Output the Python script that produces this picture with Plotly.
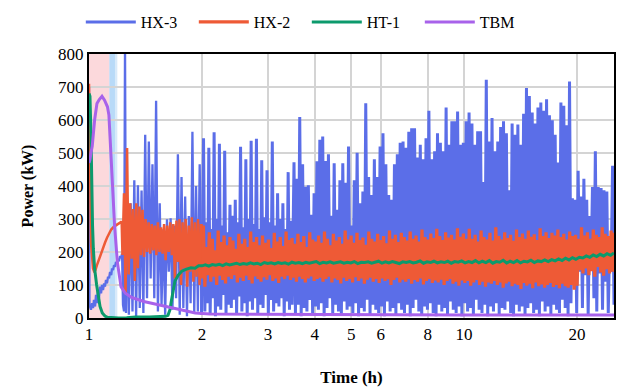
import numpy as np
import plotly.graph_objects as go

# ---------------- data ----------------
SERIES = ["HX-3", "HX-2", "HT-1", "TBM"]
COLORS = ["#5B6EE8", "#EE5A36", "#0C9A6C", "#A862EA"]

X_TICKS = [1, 2, 3, 4, 5, 6, 8, 10, 20]
X_MAX = 25.1
Y_TICKS = [0, 100, 200, 300, 400, 500, 600, 700, 800]

PINK_BAND = [1.0, 1.133]
BLUE_BAND = [1.133, 1.173]
BLUE_BAND_FADE = [1.173, 1.19]

# HX-3 : hand-read early samples (time h, kW)
HX3_EARLY_T = [1.0, 1.003, 1.012, 1.019, 1.025, 1.031, 1.038, 1.044, 1.050, 1.057,
               1.063, 1.070, 1.077, 1.083, 1.090, 1.097, 1.103, 1.110, 1.117, 1.124,
               1.131, 1.138, 1.146, 1.152, 1.159, 1.166, 1.173, 1.180, 1.188, 1.195,
               1.202, 1.210, 1.217, 1.225, 1.232, 1.240, 1.2475, 1.255]
HX3_EARLY_V = [700, 40, 25, 45, 30, 55, 35, 70, 45, 85,
               60, 95, 75, 100, 85, 105, 95, 115, 105, 125,
               120, 140, 130, 150, 145, 160, 155, 170, 165, 180,
               172, 188, 182, 195, 40, 20, 830, 15]
# HX-3 peaks / troughs, 1.26 h - 2 h
HX3_PEAKS_A = [330, 348, 417, 402, 386, 555, 535, 466, 658, 348, 269, 299, 302, 280,
               496, 427, 368, 309, 564, 400, 466]
HX3_TROUGHS_A = [10, 20, 5, 30, 15, 60, 120, 60, 20, 40, 10, 140, 25, 60, 10, 30, 5, 45,
                 15, 20, 10]
# HX-3 peaks / troughs, 2 h - 3.5 h
HX3_PEAKS_B = [545, 290, 516, 270, 563, 300, 528, 280, 507, 260, 343, 310, 358, 290,
               519, 275, 481, 300, 537, 285, 543, 270, 478, 305, 448, 290, 535, 280,
               378, 300, 348, 270, 442, 295]
HX3_TROUGHS_B = [20, 45, 10, 60, 5, 35, 25, 70, 15, 40, 30, 55, 10, 65, 20, 45, 5, 50,
                 25, 60, 15, 40, 30, 70, 10, 55, 20, 45, 35, 60, 5, 50, 25, 40]
# HX-3 peaks / troughs, 3.5 h - 25 h
HX3_PEAKS_C = [472, 422, 609, 466, 398, 402, 313, 378, 475, 540,
               550, 476, 496, 310, 469, 328, 417, 469, 410, 520,
               280, 417, 501, 348, 383, 651, 427, 373, 481, 427,
               520, 560, 466, 373, 358, 466, 496, 531, 535, 516,
               564, 575, 575, 486, 525, 481, 545, 628, 481, 505,
               560, 531, 505, 638, 525, 596, 596, 626, 525, 531,
               596, 623, 589, 525, 566, 566, 412, 722, 535, 606,
               505, 535, 579, 596, 560, 387, 589, 555, 586, 525,
               619, 697, 673, 623, 589, 638, 653, 628, 663, 614,
               599, 555, 471, 653, 643, 584, 717, 363, 358, 446,
               368, 422, 358, 309, 397, 505, 397, 394, 387, 383,
               230, 461]
HX3_TROUGHS_C = [15, 40, 5, 30, 20, 55, 10, 35, 25, 45,
                 5, 30, 60, 15, 40, 20, 10, 50, 25, 35,
                 15, 45, 5, 30, 20, 55, 10, 40, 25, 15,
                 35, 5, 50, 20, 30, 10, 45, 25, 15, 40,
                 5, 30, 55, 20, 10, 35, 25, 45, 15, 5,
                 40, 20, 30, 10, 50, 25, 15, 35, 5, 45,
                 20, 30, 10, 55, 25, 15, 40, 5, 35, 20,
                 45, 10, 30, 25, 50, 15, 5, 40, 20, 35,
                 10, 30, 45, 15, 25, 5, 50, 20, 35, 10,
                 40, 25, 15, 55, 30, 5, 45, 120, 15, 140,
                 30, 130, 10, 150, 60, 20, 135, 25, 110, 15,
                 140, 40]

# HX-2 : early samples
HX2_EARLY_T = [1.0, 1.004, 1.008, 1.012, 1.019, 1.025, 1.031, 1.040, 1.050, 1.063,
               1.077, 1.090, 1.103, 1.117, 1.131, 1.146, 1.166, 1.188, 1.210, 1.222]
HX2_EARLY_V = [710, 600, 400, 230, 170, 150, 142, 145, 160, 178,
               195, 212, 228, 243, 257, 268, 277, 284, 289, 292]
# HX-2 lows / highs 1.23 h - 2 h
HX2_LOWS_A = [191, 73, 132, 180, 112, 151, 190, 185, 200, 195, 205, 190, 200, 195,
              175, 200, 190, 120, 170, 100, 150, 95, 140, 110, 125, 100]
HX2_HIGHS_A = [378, 515, 348, 330, 348, 338, 328, 300, 290, 285, 280, 290, 275, 285,
               280, 290, 285, 295, 300, 290, 300, 280, 305, 290, 300, 285]
# HX-2 lows / highs 2 h - 25 h
HX2_LOWS_B = [120, 95, 130, 110, 125, 100, 128, 115, 105, 125,
              118, 130, 108, 122, 112, 128, 115, 105, 126, 118,
              110, 124, 116, 130, 112, 120, 106, 125, 118, 128,
              115, 122, 110, 125, 118, 108, 120, 126, 112, 118,
              122, 110, 118, 125, 108, 120, 115, 105, 122, 112,
              118, 108, 124, 112, 120, 104, 116, 122, 110, 118,
              106, 120, 112, 118, 100, 115, 122, 108, 116, 110,
              118, 104, 115, 110, 120, 102, 112, 118, 106, 114,
              108, 116, 100, 112, 118, 104, 110, 98, 114, 106,
              112, 98, 108, 115, 100, 110, 95, 108, 104, 112,
              100, 108, 92, 105, 110, 96, 104, 100, 88, 106,
              98, 104, 90, 108, 96, 102, 92, 100, 106, 94,
              100, 90, 104, 96, 92, 100, 86, 98, 145, 135,
              150, 130, 142, 125, 155, 138, 128, 148, 135, 140]
HX2_HIGHS_B = [280, 215, 260, 240, 205, 265, 230, 250, 220, 245,
               235, 210, 255, 225, 240, 215, 262, 230, 245, 220,
               250, 228, 238, 212, 258, 232, 245, 218, 262, 236,
               242, 225, 255, 230, 248, 215, 260, 238, 232, 250,
               228, 262, 240, 220, 255, 235, 245, 225, 265, 238,
               250, 228, 258, 236, 244, 222, 262, 240, 232, 255,
               236, 248, 226, 265, 240, 252, 230, 258, 245, 235,
               262, 240, 250, 232, 268, 245, 238, 256, 242, 270,
               248, 236, 260, 244, 252, 238, 272, 246, 256, 240,
               270, 240, 252, 232, 265, 245, 238, 258, 235, 275,
               248, 238, 260, 242, 252, 234, 268, 245, 256, 240,
               265, 246, 254, 236, 272, 248, 260, 242, 258, 250,
               268, 245, 255, 238, 262, 248, 252, 240, 275, 250,
               260, 240, 268, 252, 245, 275, 255, 248, 265, 258]

# HT-1
HT1_EARLY_T = [1.0, 1.006, 1.012, 1.017, 1.022, 1.027, 1.035, 1.048, 1.060, 1.070,
               1.085, 1.103, 1.12, 1.15, 1.2, 1.26, 1.33, 1.45, 1.55, 1.60,
               1.624, 1.644, 1.66, 1.68, 1.695, 1.73, 1.767, 1.82, 1.87, 1.917, 1.96]
HT1_EARLY_V = [680, 672, 560, 380, 280, 210, 150, 100, 60, 35,
               15, 6, 2, 1, 0, 1, 3, 3, 3, 5,
               8, 25, 55, 88, 112, 130, 142, 148, 152, 151, 158]
HT1_MAIN = [158, 161, 157, 162, 160, 163, 159, 164, 161, 163,
            166, 162, 165, 163, 167, 164, 166, 162, 168, 165,
            167, 164, 168, 165, 167, 163, 169, 166, 168, 165,
            169, 166, 168, 171, 165, 169, 167, 170, 166, 168,
            170, 166, 169, 167, 171, 165, 169, 168, 170, 166,
            169, 172, 166, 170, 167, 171, 168, 165, 170, 168,
            171, 167, 169, 173, 166, 170, 168, 172, 167, 170,
            168, 172, 166, 171, 169, 173, 167, 171, 168, 174,
            167, 172, 168, 174, 166, 171, 169, 175, 167, 172,
            168, 174, 167, 172, 170, 175, 168, 173, 171, 176,
            171, 177, 173, 179, 174, 181, 176, 183, 178, 184,
            182, 188, 184, 191, 186, 193, 188, 195, 190, 197]

# TBM
TBM_T = [1.0, 1.006, 1.012, 1.02, 1.035, 1.05, 1.065, 1.083, 1.10, 1.12,
         1.13, 1.15, 1.17, 1.19, 1.217, 1.25, 1.3, 1.4, 1.5, 1.63,
         1.8, 1.92, 2.1, 3.0, 5.0, 10.0, 25.1]
TBM_V = [470, 480, 500, 520, 600, 650, 662, 672, 660, 640,
         615, 440, 280, 170, 95, 75, 62, 50, 42, 33,
         22, 15, 12, 11, 10, 9, 9]


# ---------------- assemble ----------------
def zigzag(first, second):
    out = []
    for a, b in zip(first, second):
        out += [a, b]
    return out


hx3_early_t = (list(HX3_EARLY_T)
               + list(np.geomspace(1.263, 1.995, 2 * len(HX3_PEAKS_A))))
hx3_early_v = HX3_EARLY_V + zigzag(HX3_PEAKS_A, HX3_TROUGHS_A)
hx3_main_t = (hx3_early_t[-1:]
              + list(np.geomspace(2.02, 3.48, 2 * len(HX3_PEAKS_B)))
              + list(np.geomspace(3.52, X_MAX, 2 * len(HX3_PEAKS_C))))
hx3_main_v = (hx3_early_v[-1:] + zigzag(HX3_PEAKS_B, HX3_TROUGHS_B)
              + zigzag(HX3_PEAKS_C, HX3_TROUGHS_C))

hx2_early_t = list(HX2_EARLY_T) + list(np.geomspace(1.228, 1.99, 2 * len(HX2_LOWS_A)))
hx2_early_v = HX2_EARLY_V + zigzag(HX2_LOWS_A, HX2_HIGHS_A)
hx2_main_t = hx2_early_t[-1:] + list(np.geomspace(2.0, X_MAX, 2 * len(HX2_LOWS_B)))
hx2_main_v = hx2_early_v[-1:] + zigzag(HX2_LOWS_B, HX2_HIGHS_B)

ht1_t = list(HT1_EARLY_T) + list(np.geomspace(2.0, X_MAX, len(HT1_MAIN)))
ht1_v = HT1_EARLY_V + HT1_MAIN

SERIF = "Liberation Serif, Times New Roman, serif"

fig = go.Figure()
parts = [
    (0, hx3_main_t, hx3_main_v, 3.0, True),
    (0, hx3_early_t, hx3_early_v, 2.3, False),
    (1, hx2_main_t, hx2_main_v, 3.2, True),
    (1, hx2_early_t, hx2_early_v, 2.5, False),
    (2, ht1_t, ht1_v, 3.0, True),
    (3, TBM_T, TBM_V, 3.0, True),
]
for idx, t, v, w, show in parts:
    fig.add_trace(go.Scatter(x=t, y=v, mode="lines", name=SERIES[idx],
                             legendgroup=SERIES[idx], showlegend=show,
                             line=dict(color=COLORS[idx], width=w)))

for band, col in [(PINK_BAND, "rgba(250,185,192,0.55)"),
                  (BLUE_BAND, "rgba(160,205,245,0.75)"),
                  (BLUE_BAND_FADE, "rgba(200,225,248,0.7)")]:
    fig.add_shape(type="rect", xref="x", yref="y", x0=band[0], x1=band[1],
                  y0=Y_TICKS[0], y1=Y_TICKS[-1], fillcolor=col, line_width=0,
                  layer="below")

fig.update_layout(
    width=619, height=387,
    margin=dict(l=89, r=5, t=47, b=69),
    paper_bgcolor="white", plot_bgcolor="white",
    font=dict(family=SERIF, size=17, color="black"),
    legend=dict(orientation="h", x=-0.0156, y=1.121, xanchor="left", yanchor="middle",
                font=dict(family=SERIF, size=16, color="black"), itemwidth=50,
                entrywidth=48, bgcolor="rgba(0,0,0,0)"),
)
fig.update_xaxes(type="log", range=[0, np.log10(X_MAX)], tickvals=X_TICKS,
                 ticktext=[str(v) for v in X_TICKS], showgrid=True, automargin=False,
                 tickfont=dict(family=SERIF, size=17, color="black"),
                 gridcolor="#d4d4d4", gridwidth=2, showline=True, linecolor="black",
                 linewidth=2, mirror=True, ticks="", zeroline=False,
                 title=dict(text="<b>Time (h)</b>", standoff=28,
                            font=dict(family=SERIF, size=17, color="black")))
fig.update_yaxes(range=[Y_TICKS[0], Y_TICKS[-1]], tickvals=Y_TICKS, showgrid=True,
                 automargin=False,
                 tickfont=dict(family=SERIF, size=17, color="black"),
                 gridcolor="#d4d4d4", gridwidth=2, showline=True, linecolor="black",
                 linewidth=2, mirror=True, ticks="", zeroline=False,
                 title=dict(text="<b>Power (kW)</b>", standoff=20,
                            font=dict(family=SERIF, size=16, color="black")))

fig.write_html("out.html")
